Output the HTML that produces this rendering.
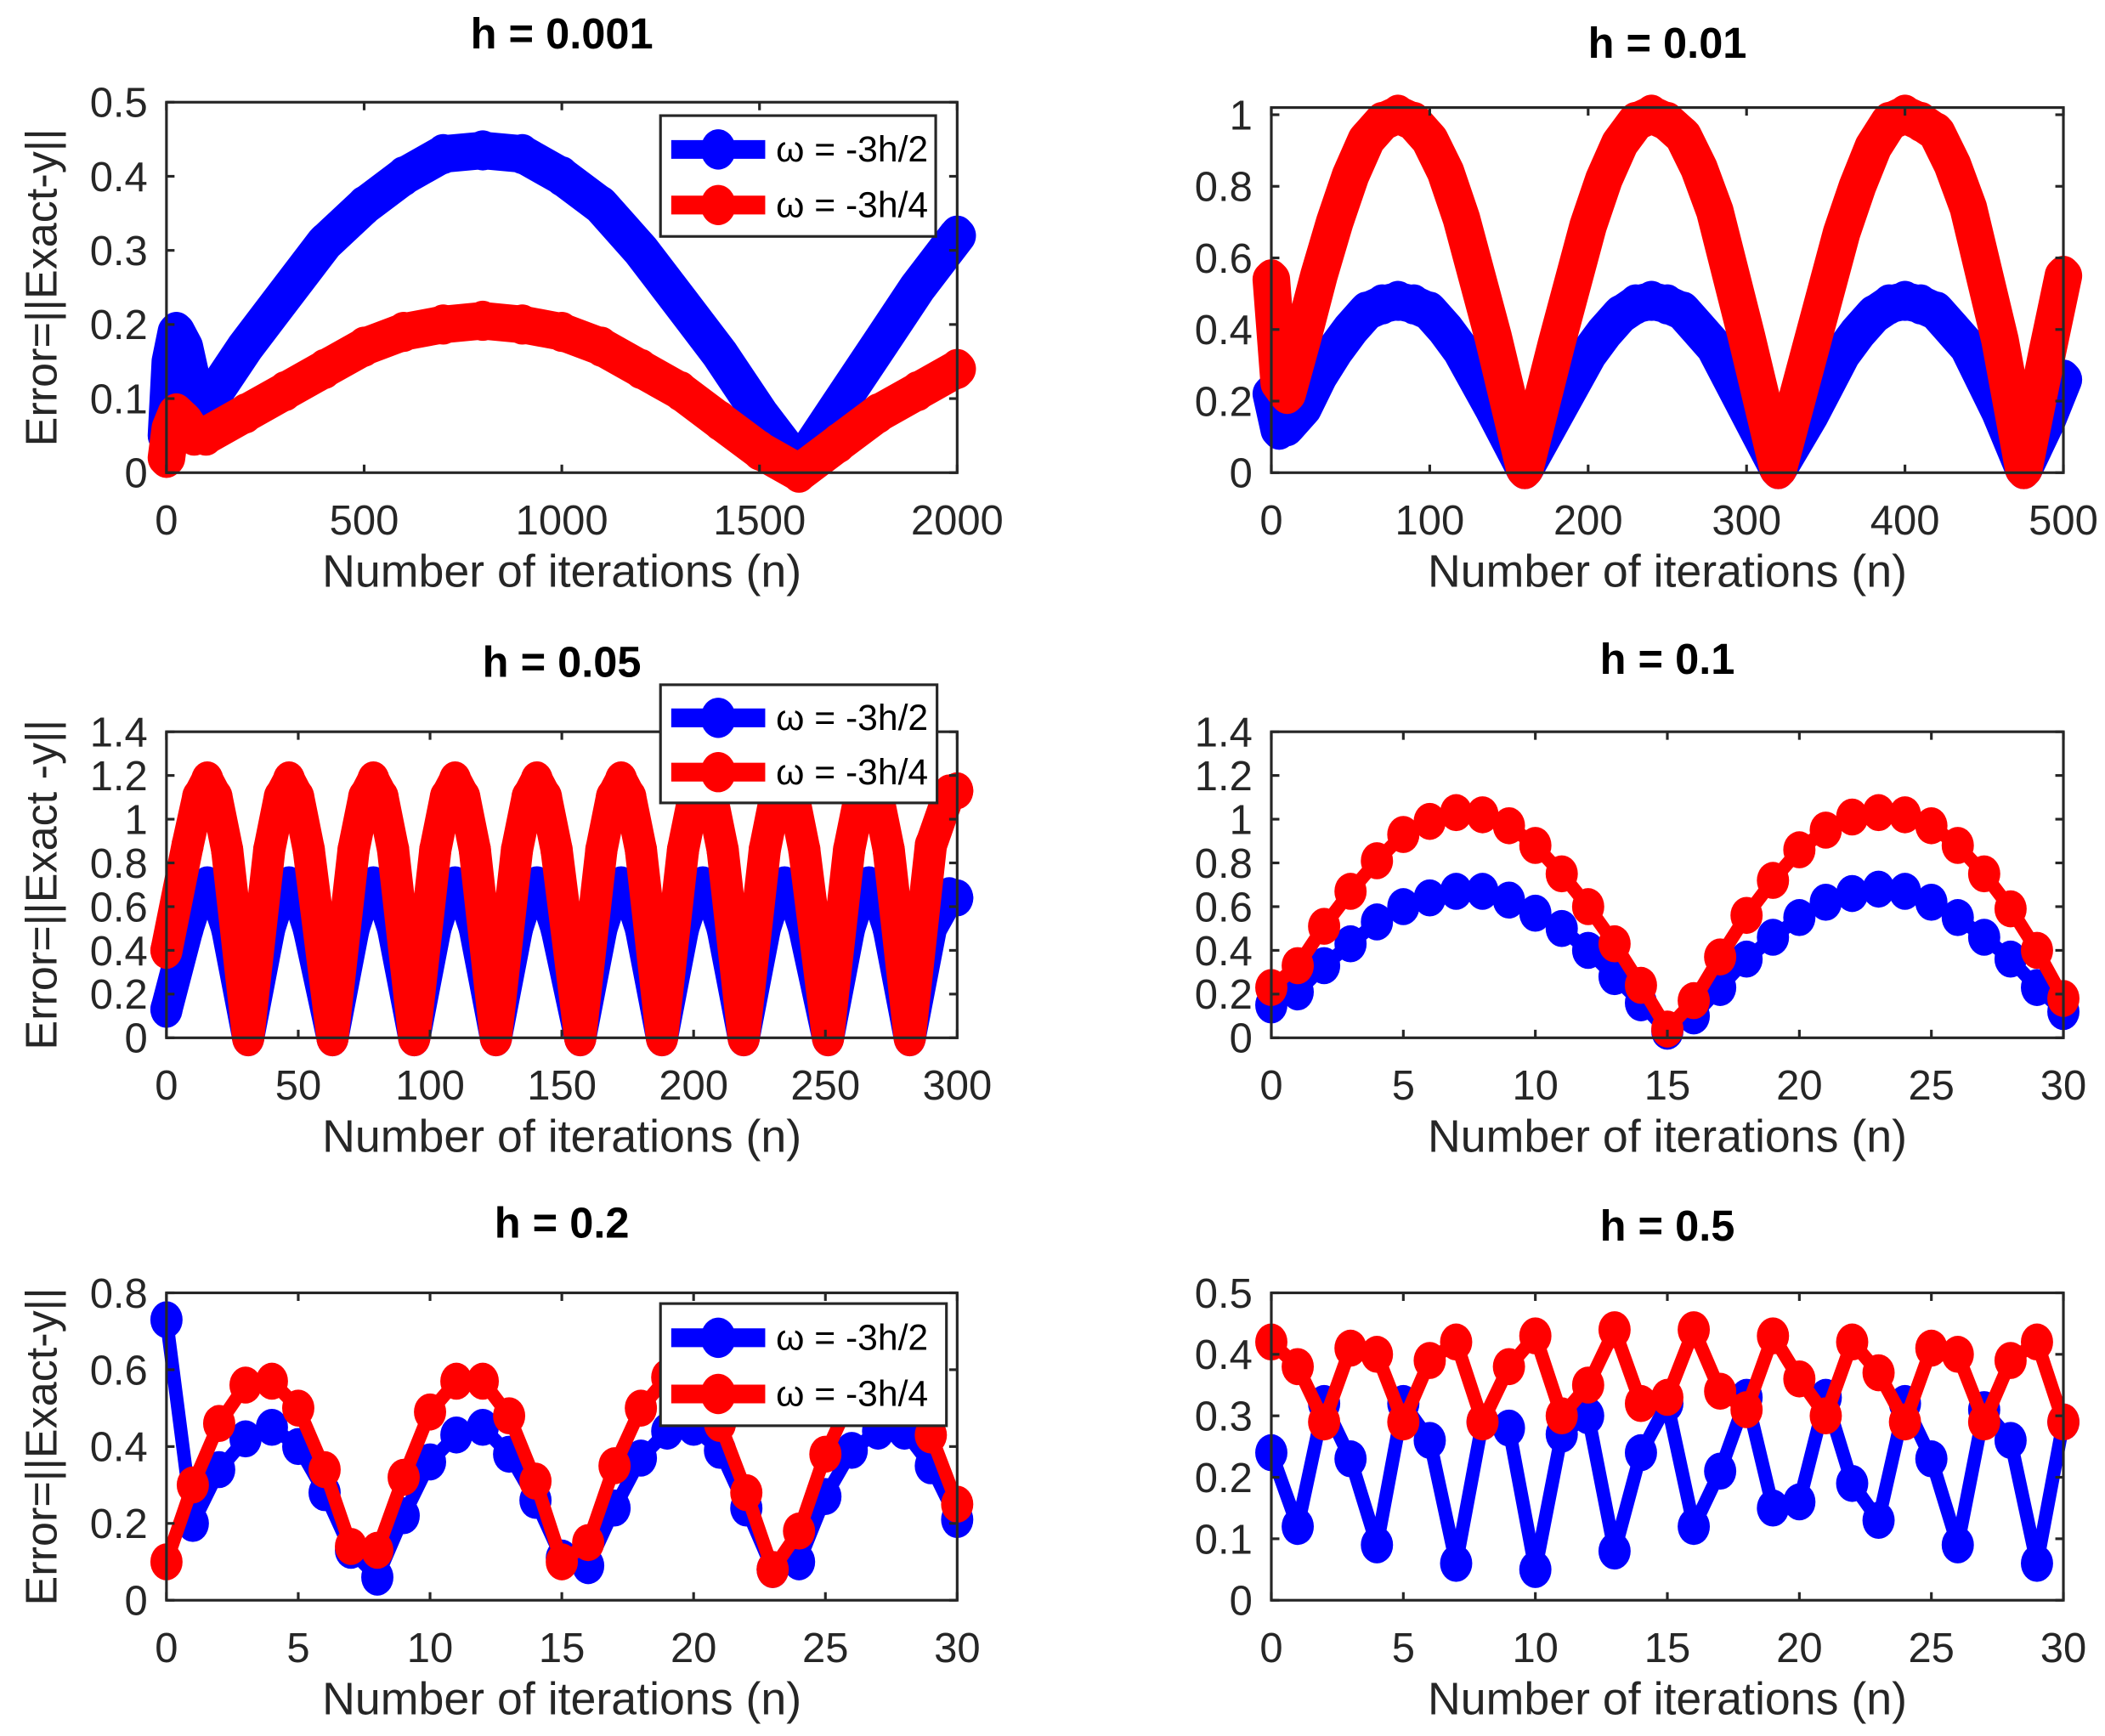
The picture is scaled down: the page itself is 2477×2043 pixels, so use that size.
<!DOCTYPE html>
<html><head><meta charset="utf-8"><style>
html,body{margin:0;padding:0;background:#fff;}
svg{display:block;font-family:"Liberation Sans",sans-serif;}
</style></head><body>
<svg id="fig" width="2477" height="2043" viewBox="0 0 1568 1293" xmlns="http://www.w3.org/2000/svg"></svg>
<script>
// ---- data ----
const n001=[0,10,25,45,70,100,200,300,400,500,600,700,800,900,1000,1100,1200,1300,1400,1500,1600,1700,1800,1900,2000];
const b001=[0.05,0.15,0.19,0.17,0.11,0.09,0.17,0.24,0.31,0.36,0.40,0.43,0.435,0.43,0.40,0.36,0.30,0.23,0.16,0.08,0.01,0.09,0.17,0.25,0.32];
const r001=[0.02,0.06,0.08,0.07,0.05,0.05,0.08,0.11,0.14,0.17,0.19,0.20,0.205,0.20,0.19,0.17,0.14,0.11,0.07,0.03,0.0,0.04,0.08,0.11,0.14];
const n01=[0,5,10,20,30,40,50,60,70,80,90,100,110,120,140,160,180,200,210,220,230,240,250,260,270,280,300,320,340,360,370,380,390,400,410,420,430,440,460,475,490,500];
const b01=[0.22,0.12,0.13,0.18,0.27,0.34,0.40,0.45,0.47,0.48,0.47,0.45,0.40,0.34,0.18,0.01,0.17,0.33,0.39,0.44,0.47,0.48,0.47,0.45,0.40,0.35,0.18,0.01,0.16,0.33,0.39,0.44,0.47,0.48,0.47,0.45,0.40,0.35,0.17,0.01,0.15,0.26];
const r01=[0.54,0.25,0.22,0.38,0.55,0.70,0.83,0.93,0.98,1.00,0.98,0.93,0.84,0.71,0.38,0.01,0.36,0.69,0.82,0.92,0.98,1.00,0.98,0.94,0.85,0.73,0.38,0.01,0.34,0.67,0.80,0.91,0.98,1.00,0.98,0.95,0.86,0.74,0.37,0.01,0.34,0.55];
const n05=[0,8,12,15.5,19,23,31,39,43,46.5,50,54,63,71,75,78.5,82,86,94,102,106,109.5,113,117,125,133,137,140.5,144,148,157,165,169,172.5,176,180,188,196,200,203.5,207,211,219,227,231,234.5,238,242,251,259,263,266.5,270,274,282,290,297,300];
const b05=[0.13,0.50,0.65,0.70,0.65,0.50,0.0,0.50,0.65,0.70,0.65,0.50,0.0,0.50,0.65,0.70,0.65,0.50,0.0,0.50,0.65,0.70,0.65,0.50,0.0,0.50,0.65,0.70,0.65,0.50,0.0,0.50,0.65,0.70,0.65,0.50,0.0,0.50,0.65,0.70,0.65,0.50,0.0,0.50,0.65,0.70,0.65,0.50,0.0,0.50,0.65,0.70,0.65,0.50,0.0,0.50,0.65,0.64];
const r05=[0.40,0.88,1.10,1.18,1.10,0.86,0.0,0.86,1.10,1.18,1.10,0.86,0.0,0.86,1.10,1.18,1.10,0.86,0.0,0.86,1.10,1.18,1.10,0.86,0.0,0.86,1.10,1.18,1.10,0.86,0.0,0.86,1.10,1.18,1.10,0.86,0.0,0.86,1.10,1.18,1.10,0.86,0.0,0.86,1.10,1.18,1.10,0.86,0.0,0.86,1.10,1.18,1.10,0.86,0.0,0.88,1.12,1.13];
const n30=[0,1,2,3,4,5,6,7,8,9,10,11,12,13,14,15,16,17,18,19,20,21,22,23,24,25,26,27,28,29,30];
const b1=[0.15,0.21,0.33,0.43,0.53,0.60,0.64,0.67,0.67,0.63,0.57,0.50,0.40,0.28,0.16,0.03,0.10,0.23,0.36,0.46,0.55,0.62,0.66,0.68,0.67,0.62,0.55,0.46,0.36,0.23,0.12];
const r1=[0.23,0.33,0.51,0.67,0.81,0.93,0.99,1.03,1.02,0.97,0.88,0.75,0.60,0.43,0.24,0.04,0.17,0.37,0.56,0.72,0.86,0.95,1.01,1.03,1.02,0.97,0.88,0.75,0.59,0.40,0.18];
const b2=[0.73,0.20,0.34,0.42,0.45,0.40,0.28,0.13,0.06,0.22,0.36,0.43,0.45,0.38,0.26,0.11,0.09,0.24,0.37,0.44,0.45,0.39,0.24,0.08,0.10,0.27,0.39,0.44,0.44,0.35,0.21];
const r2=[0.10,0.30,0.46,0.56,0.57,0.50,0.34,0.14,0.13,0.32,0.49,0.57,0.57,0.48,0.31,0.10,0.15,0.35,0.50,0.58,0.59,0.46,0.28,0.08,0.18,0.38,0.53,0.60,0.59,0.43,0.25];
const b5=[0.24,0.12,0.32,0.23,0.09,0.32,0.26,0.06,0.29,0.28,0.05,0.27,0.30,0.08,0.24,0.32,0.12,0.21,0.33,0.15,0.16,0.33,0.19,0.13,0.32,0.23,0.09,0.31,0.26,0.06,0.29];
const r5=[0.42,0.38,0.29,0.41,0.40,0.29,0.39,0.42,0.29,0.38,0.43,0.30,0.35,0.44,0.32,0.33,0.44,0.34,0.31,0.43,0.36,0.30,0.42,0.37,0.29,0.41,0.40,0.29,0.39,0.42,0.29];
const xt2000=[0,500,1000,1500,2000], xt500=[0,100,200,300,400,500], xt300=[0,50,100,150,200,250,300], xt30=[0,5,10,15,20,25,30];
const yt05=[0,0.1,0.2,0.3,0.4,0.5], yt1=[0,0.2,0.4,0.6,0.8,1], yt14=[0,0.2,0.4,0.6,0.8,1,1.2,1.4], yt08=[0,0.2,0.4,0.6,0.8];

const NS="http://www.w3.org/2000/svg";
const svg=document.getElementById('fig');
function mk(tag,attrs,parent){const e=document.createElementNS(NS,tag);for(const k in attrs)e.setAttribute(k,attrs[k]);(parent||svg).appendChild(e);return e;}
function txt(s,attrs,parent){const e=mk('text',attrs,parent);e.textContent=s;return e;}

function panel(o){
  const g=mk('g',{});
  
  
  const L=o.x0,R=o.x1,T=o.y0,B=o.y1;
  const xs=v=>L+(v-o.xmin)/(o.xmax-o.xmin)*(R-L);
  const ys=v=>B-(v-o.ymin)/(o.ymax-o.ymin)*(B-T);
  const cp=mk('clipPath',{id:'c'+o.name},g);
  mk('rect',{x:L-20,y:T-20,width:R-L+40,height:B-T+40},cp);
  const series=[[o.b,'#0000ff','series-blue'],[o.r,'#ff0000','series-red']];
  series.forEach(([vals,col,nm])=>{
    const sg=mk('g',{'clip-path':'url(#c'+o.name+')'},g);
    
    
    const pts=o.n.map((v,i)=>xs(v).toFixed(1)+','+ys(vals[i]).toFixed(1)).join(' ');
    mk('polyline',{points:pts,fill:'none',stroke:col,'stroke-width':o.lw,'stroke-linejoin':'round','stroke-linecap':'round'},sg);
    o.n.forEach((v,i)=>{
      const c=mk('ellipse',{cx:xs(v),cy:ys(vals[i]),rx:o.mr,ry:o.mr*1.15,fill:col},sg);
      
      
    });
  });
  const ax=mk('rect',{x:L,y:T,width:R-L,height:B-T,fill:'none',stroke:'#262626','stroke-width':2},g);
  
  
  o.xt.forEach(v=>{
    const x=xs(v);
    mk('line',{x1:x,y1:B,x2:x,y2:B-6,stroke:'#262626','stroke-width':2},g);
    mk('line',{x1:x,y1:T,x2:x,y2:T+6,stroke:'#262626','stroke-width':2},g);
    const t=txt(String(v),{x:x,y:B+46,'font-size':31,'text-anchor':'middle',fill:'#262626'},g);
    
    
  });
  o.yt.forEach(v=>{
    const y=ys(v);
    mk('line',{x1:L,y1:y,x2:L+6,y2:y,stroke:'#262626','stroke-width':2},g);
    mk('line',{x1:R,y1:y,x2:R-6,y2:y,stroke:'#262626','stroke-width':2},g);
    const t=txt(String(v),{x:L-14,y:y+11,'font-size':31,'text-anchor':'end',fill:'#262626'},g);
    
    
  });
  const tt=txt(o.title,{x:(L+R)/2,y:o.ty,'font-size':32,'font-weight':'bold','text-anchor':'middle',fill:'#000'},g);
  
  
  const xl=txt('Number of iterations (n)',{x:(L+R)/2,y:B+85,'font-size':34,'text-anchor':'middle',fill:'#262626'},g);
  
  
  if(o.ylab){
    const yl=txt(o.ylab,{x:0,y:0,'font-size':33,'text-anchor':'middle',fill:'#262626',transform:'translate(42,'+((T+B)/2)+') rotate(-90)'},g);
    
    
  }
  if(o.leg){
    const [lx,ly,lw,lh]=o.leg;
    const lg=mk('g',{},g);
    
    
    mk('rect',{x:lx,y:ly,width:lw,height:lh,fill:'#fff',stroke:'#262626','stroke-width':2},lg);
    [['#0000ff','\u03c9 = -3h/2',ly+lh*0.28],['#ff0000','\u03c9 = -3h/4',ly+lh*0.74]].forEach(([c,s,yy],k)=>{
      const e=mk('g',{},lg);
      
      
      mk('line',{x1:lx+8,y1:yy,x2:lx+78,y2:yy,stroke:c,'stroke-width':14},e);
      mk('ellipse',{cx:lx+43,cy:yy,rx:13,ry:15,fill:c},e);
      txt(s,{x:lx+86,y:yy+9,'font-size':27,fill:'#000'},e);
    });
  }
}
panel({name:'panel-h0001',title:'h = 0.001',ty:36,x0:124,x1:713,y0:76,y1:352,xmin:0,xmax:2000,ymin:0,ymax:0.5,xt:xt2000,yt:yt05,n:n001,b:b001,r:r001,lw:28,mr:13,ylab:'Error=||Exact-y||',leg:[492,86,205,90]});
panel({name:'panel-h001',title:'h = 0.01',ty:43,x0:947,x1:1537,y0:80,y1:352,xmin:0,xmax:500,ymin:0,ymax:1.02,xt:xt500,yt:yt1,n:n01,b:b01,r:r01,lw:28,mr:13});
panel({name:'panel-h005',title:'h = 0.05',ty:504,x0:124,x1:713,y0:545,y1:773,xmin:0,xmax:300,ymin:0,ymax:1.4,xt:xt300,yt:yt14,n:n05,b:b05,r:r05,lw:24,mr:12,ylab:'Error=||Exact -y||',leg:[492,510,206,88]});
panel({name:'panel-h01',title:'h = 0.1',ty:502,x0:947,x1:1537,y0:545,y1:773,xmin:0,xmax:30,ymin:0,ymax:1.4,xt:xt30,yt:yt14,n:n30,b:b1,r:r1,lw:10,mr:12});
panel({name:'panel-h02',title:'h = 0.2',ty:922,x0:124,x1:713,y0:963,y1:1192,xmin:0,xmax:30,ymin:0,ymax:0.8,xt:xt30,yt:yt08,n:n30,b:b2,r:r2,lw:10,mr:12,ylab:'Error=||Exact-y||',leg:[492,971,213,91]});
panel({name:'panel-h05',title:'h = 0.5',ty:924,x0:947,x1:1537,y0:963,y1:1192,xmin:0,xmax:30,ymin:0,ymax:0.5,xt:xt30,yt:yt05,n:n30,b:b5,r:r5,lw:10,mr:12});
</script>
</body></html>
